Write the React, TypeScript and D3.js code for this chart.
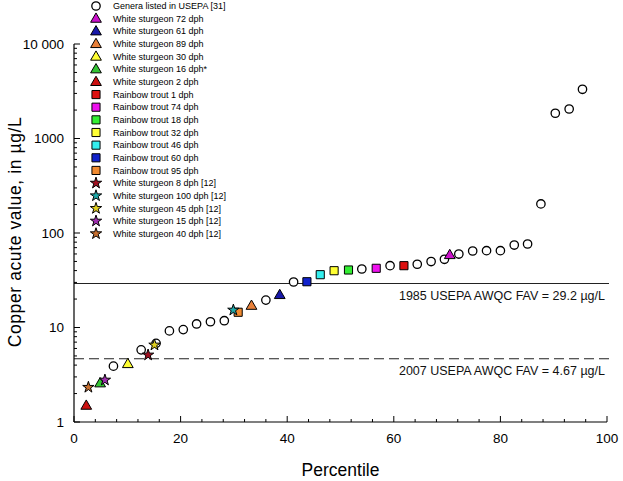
import React from 'react';
import * as d3 from 'd3';

const W = 623;
const H = 481;

// USEPA genera (open circles)
const generaPct = [7.4, 12.6, 15.4, 17.9, 20.5, 23.0, 25.6, 28.2, 36.0, 41.2, 54.0, 59.3, 64.4, 67.0, 69.5, 72.2, 74.8, 77.4, 80.0, 82.6, 85.1, 87.6, 90.3, 92.9, 95.4];
const generaVal = [3.9, 5.8, 6.8, 9.2, 9.5, 10.9, 11.5, 11.8, 19.5, 30.3, 41.6, 45.1, 46.7, 49.9, 52.7, 59.9, 64.5, 65.0, 65.0, 74.6, 76.5, 203, 1849, 2052, 3318];

const seriesLabels = [
  'White sturgeon 72 dph',
  'White sturgeon 61 dph',
  'White sturgeon 89 dph',
  'White sturgeon 30 dph',
  'White sturgeon 16 dph*',
  'White sturgeon 2 dph',
  'Rainbow trout 1 dph',
  'Rainbow trout 74 dph',
  'Rainbow trout 18 dph',
  'Rainbow trout 32 dph',
  'Rainbow trout 46 dph',
  'Rainbow trout 60 dph',
  'Rainbow trout 95 dph',
  'White sturgeon 8 dph [12]',
  'White sturgeon 100 dph [12]',
  'White sturgeon 45 dph [12]',
  'White sturgeon 15 dph [12]',
  'White sturgeon 40 dph [12]',
];
const seriesPct = [70.5, 38.6, 33.3, 10.1, 4.9, 2.3, 61.9, 56.7, 51.5, 48.8, 46.2, 43.7, 30.8, 13.9, 29.9, 15.1, 5.8, 2.7];
const seriesVal = [58.5, 22.1, 17.0, 4.11, 2.57, 1.49, 45.1, 42.3, 40.6, 39.9, 36.2, 30.5, 14.5, 5.12, 15.3, 6.53, 2.78, 2.33];
const seriesShape = ['triangle', 'triangle', 'triangle', 'triangle', 'triangle', 'triangle',
  'square', 'square', 'square', 'square', 'square', 'square', 'square',
  'star', 'star', 'star', 'star', 'star'];
const seriesColor = ['#CC11CC', '#1818A8', '#E8803A', '#FFFF33', '#33C433', '#CC1111',
  '#DD1111', '#EE11EE', '#33EE33', '#FFFF33', '#33EEEE', '#1122CC', '#F08A30',
  '#A01020', '#20A8A8', '#E0D020', '#A030B0', '#C87030'];

const generaLabel = 'Genera listed in USEPA [31]';

const favValues = [29.2, 4.67];
const favLabels = ['1985 USEPA AWQC FAV = 29.2 µg/L', '2007 USEPA AWQC FAV = 4.67 µg/L'];
const favDash = ['', '10,5'];

const xTicks = [0, 20, 40, 60, 80, 100];
const yTicks = [1, 10, 100, 1000, 10000];
const yTickLabels = ['1', '10', '100', '1000', '10 000'];

const FONT = '"Liberation Sans", Arial, sans-serif';

const symbolMap: Record<string, d3.SymbolType> = {
  triangle: d3.symbolTriangle,
  square: d3.symbolSquare,
  star: d3.symbolStar,
};
const sizeMap: Record<string, number> = { triangle: 50, square: 66, star: 40 };

function Marker({ shape, color, x, y }: { shape: string; color: string; x: number; y: number }) {
  const path = d3.symbol().type(symbolMap[shape]).size(sizeMap[shape])() as string;
  const dy = shape === 'triangle' ? 0.5 : 0;
  return <path d={path} transform={`translate(${x},${y + dy})`} fill={color} stroke="#000" strokeWidth={1} />;
}

export default function App() {
  const x = d3.scaleLinear().domain([0, 100]).range([74, 607]);
  const y = d3.scaleLog().domain([1, 10000]).range([422, 44]);

  const xMinor = d3.range(0, 101, 4).filter((v) => v % 20 !== 0);
  const yMinor: number[] = [];
  for (let d = 1; d < 10000; d *= 10) for (let k = 2; k <= 9; k++) yMinor.push(d * k);

  const legendX = 96;
  const legendTextX = 113;
  const legendY0 = 6;
  const legendStep = 12.65;

  return (
    <svg width={W} height={H} style={{ position: 'absolute', left: 0, top: 0, background: '#fff' }} fontFamily={FONT}>
      <rect x={0} y={0} width={W} height={H} fill="#fff" />
      {/* FAV lines */}
      {favValues.map((v, i) => (
        <g key={'fav' + i}>
          <line x1={x(0)} x2={x(100) + 2} y1={y(v)} y2={y(v)} stroke="#222" strokeWidth={1.1} strokeDasharray={favDash[i]} />
          <text x={x(100) - 2} y={y(v) + 16} textAnchor="end" fontSize={12.5} fill="#111">{favLabels[i]}</text>
        </g>
      ))}
      {/* axes */}
      <line x1={x(0)} x2={x(0)} y1={y(1)} y2={y(10000)} stroke="#000" strokeWidth={1.2} />
      <line x1={x(0)} x2={x(100)} y1={y(1)} y2={y(1)} stroke="#000" strokeWidth={1.2} />
      {yTicks.map((v, i) => (
        <g key={'yt' + i}>
          <line x1={x(0)} x2={x(0) + 6} y1={y(v)} y2={y(v)} stroke="#000" />
          <text x={64} y={y(v)} dy="0.35em" textAnchor="end" fontSize={13.5}>{yTickLabels[i]}</text>
        </g>
      ))}
      {yMinor.map((v, i) => (
        <line key={'ym' + i} x1={x(0)} x2={x(0) + 3} y1={y(v)} y2={y(v)} stroke="#000" />
      ))}
      {xTicks.map((v, i) => (
        <g key={'xt' + i}>
          <line x1={x(v)} x2={x(v)} y1={y(1)} y2={y(1) - 6} stroke="#000" />
          <text x={x(v)} y={443} textAnchor="middle" fontSize={13.5}>{v}</text>
        </g>
      ))}
      {xMinor.map((v, i) => (
        <line key={'xm' + i} x1={x(v)} x2={x(v)} y1={y(1)} y2={y(1) - 3} stroke="#000" />
      ))}
      <text x={(x(0) + x(100)) / 2} y={476} textAnchor="middle" fontSize={17.5}>Percentile</text>
      <text transform={`translate(21,232) rotate(-90)`} textAnchor="middle" fontSize={17.5} letterSpacing={0.6}>Copper acute value, in µg/L</text>

      {/* genera circles */}
      {generaPct.map((p, i) => (
        <circle key={'g' + i} cx={x(p)} cy={y(generaVal[i])} r={4.2} fill="#fff" stroke="#000" strokeWidth={1.3} />
      ))}
      {/* colored series */}
      {seriesPct.map((p, i) => (
        <Marker key={'s' + i} shape={seriesShape[i]} color={seriesColor[i]} x={x(p)} y={y(seriesVal[i])} />
      ))}

      {/* legend */}
      <g>
        <circle cx={legendX} cy={legendY0} r={4.2} fill="#fff" stroke="#000" strokeWidth={1.3} />
        <text x={legendTextX} y={legendY0} dy="0.35em" fontSize={9}>{generaLabel}</text>
        {seriesLabels.map((lab, i) => {
          const ly = legendY0 + (i + 1) * legendStep;
          return (
            <g key={'l' + i}>
              <Marker shape={seriesShape[i]} color={seriesColor[i]} x={legendX} y={ly} />
              <text x={legendTextX} y={ly} dy="0.35em" fontSize={9}>{lab}</text>
            </g>
          );
        })}
      </g>
    </svg>
  );
}
